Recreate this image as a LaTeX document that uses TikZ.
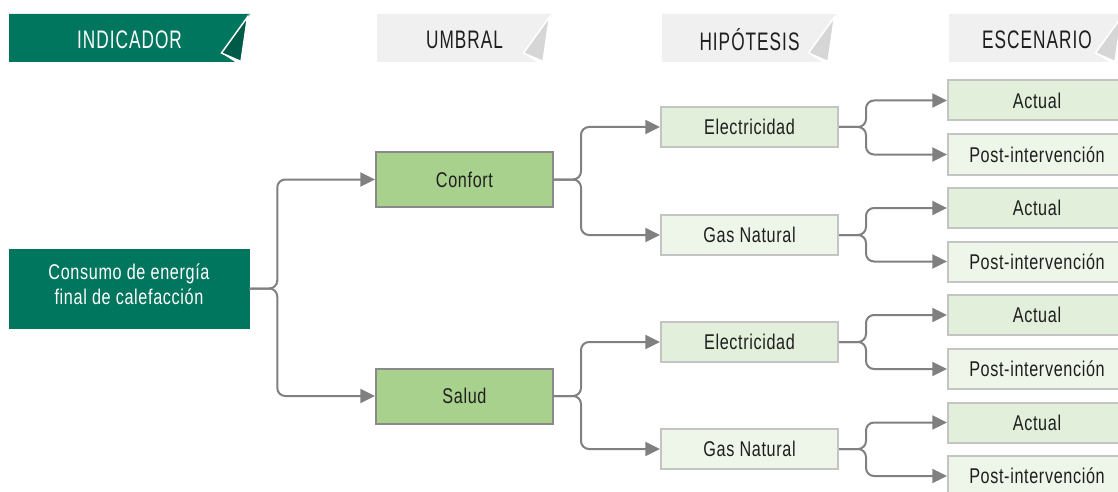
\documentclass[tikz,border=0pt]{standalone}
\usepackage{fontspec}
\setmainfont{Liberation Sans}[FakeStretch=0.76, LetterSpace=3]
\newfontfamily\hdrfont{Liberation Sans}[FakeStretch=0.68, LetterSpace=4]
\usetikzlibrary{arrows.meta}

\definecolor{dkgreen}{HTML}{00765F}
\definecolor{foldgreen}{HTML}{005A48}
\definecolor{hdrgrey}{HTML}{F0F0F0}
\definecolor{foldgrey}{HTML}{D6D6D6}
\definecolor{txt}{HTML}{1E1E1E}
\definecolor{midgreen}{HTML}{A9D18E}
\definecolor{palegreen}{HTML}{E2EFDA}
\definecolor{palergreen}{HTML}{EEF6E9}
\definecolor{boxedge}{HTML}{8A8A8A}
\definecolor{lightedge}{HTML}{C4C4C4}
\definecolor{linegrey}{HTML}{808080}

\tikzset{
  hdrtext/.style={font=\hdrfont\fontsize{19}{21}\selectfont, text=txt, inner sep=0pt},
  basebox/.style={draw, rectangle, align=center, inner sep=0pt,
    font=\fontsize{16}{19}\selectfont, text=txt},
  rootbox/.style={basebox, fill=dkgreen, draw=dkgreen, text=white,
    minimum width=180pt, minimum height=59.25pt},
  umbralbox/.style={basebox, fill=midgreen, draw=boxedge, line width=1.5pt,
    minimum width=132.75pt, minimum height=41.25pt},
  hypbox/.style={basebox, draw=lightedge, line width=1.5pt,
    minimum width=132.75pt, minimum height=30pt},
  scenbox/.style={basebox, draw=lightedge, line width=1.5pt,
    minimum width=133.5pt, minimum height=30pt},
  conn/.style={draw=linegrey, line width=1.5pt, rounded corners=6pt,
    -{Triangle[length=11pt, width=10.5pt]}, color=linegrey},
}

\begin{document}
\begin{tikzpicture}[x=0.75pt, y=-0.75pt]
\useasboundingbox (0,0) rectangle (1118,492);

% --- column header ribbons with folded corner ---
\fill[dkgreen] (9,14) -- (250,14) -- (221,53) -- (235,62) -- (9,62) -- cycle;
\filldraw[fill=foldgreen, draw=white, line width=1.1pt, line join=miter]
  (247.5,17) -- (221.5,53) -- (241,61.5) -- cycle;
\node[hdrtext, text=white] (hind) at (129.5,40) {INDICADOR};

\fill[hdrgrey] (377,14) -- (552,14) -- (523,53) -- (537,62) -- (377,62) -- cycle;
\filldraw[fill=foldgrey, draw=white, line width=1.1pt, line join=miter]
  (549.5,17) -- (523.5,53) -- (543,61.5) -- cycle;
\node[hdrtext] (humb) at (464.5,40) {UMBRAL};

\fill[hdrgrey] (662,14) -- (837,14) -- (808,53) -- (822,62) -- (662,62) -- cycle;
\filldraw[fill=foldgrey, draw=white, line width=1.1pt, line join=miter]
  (834.5,17) -- (808.5,53) -- (828,61.5) -- cycle;
\node[hdrtext] (hhyp) at (749.5,40) {HIPÓTESIS};

\fill[hdrgrey] (949,14) -- (1124,14) -- (1095,53) -- (1109,62) -- (949,62) -- cycle;
\filldraw[fill=foldgrey, draw=white, line width=1.1pt, line join=miter]
  (1121.5,17) -- (1095.5,53) -- (1115,61.5) -- cycle;
\node[hdrtext] (hesc) at (1037,40) {ESCENARIO};

% --- tree nodes ---
\node[rootbox] (root) at (129,288.5) {\raisebox{3pt}[\height][\depth]{\parbox{170pt}{\centering Consumo de energía\\final de calefacción}}};

\node[umbralbox] (confort) at (464.5,179.5) {Confort};
\node[umbralbox] (salud)   at (464.5,396)   {Salud};

\node[hypbox, fill=palegreen]  (elec1) at (749.5,127) {Electricidad};
\node[hypbox, fill=palergreen] (gas1)  at (749.5,235) {Gas Natural};
\node[hypbox, fill=palegreen]  (elec2) at (749.5,342) {Electricidad};
\node[hypbox, fill=palergreen] (gas2)  at (749.5,449) {Gas Natural};

\node[scenbox, fill=palegreen]  (act1)  at (1037,100.5) {Actual};
\node[scenbox, fill=palergreen] (post1) at (1037,154.5) {Post-intervención};
\node[scenbox, fill=palegreen]  (act2)  at (1037,208)   {Actual};
\node[scenbox, fill=palergreen] (post2) at (1037,261.5) {Post-intervención};
\node[scenbox, fill=palegreen]  (act3)  at (1037,315)   {Actual};
\node[scenbox, fill=palergreen] (post3) at (1037,369)   {Post-intervención};
\node[scenbox, fill=palegreen]  (act4)  at (1037,422.5) {Actual};
\node[scenbox, fill=palergreen] (post4) at (1037,476)   {Post-intervención};

% --- branching connectors ---
\foreach \src/\dst in {root/confort, root/salud}
  \draw[conn] (\src.east) -- ++(28,0) |- (\dst.west);
\foreach \src/\dst in {confort/elec1, confort/gas1, salud/elec2, salud/gas2}
  \draw[conn] (\src.east) -- ++(27,0) |- (\dst.west);
\foreach \src/\dst in {elec1/act1, elec1/post1, gas1/act2, gas1/post2,
                       elec2/act3, elec2/post3, gas2/act4, gas2/post4}
  \draw[conn] (\src.east) -- ++(27,0) |- (\dst.west);
\end{tikzpicture}
\end{document}
